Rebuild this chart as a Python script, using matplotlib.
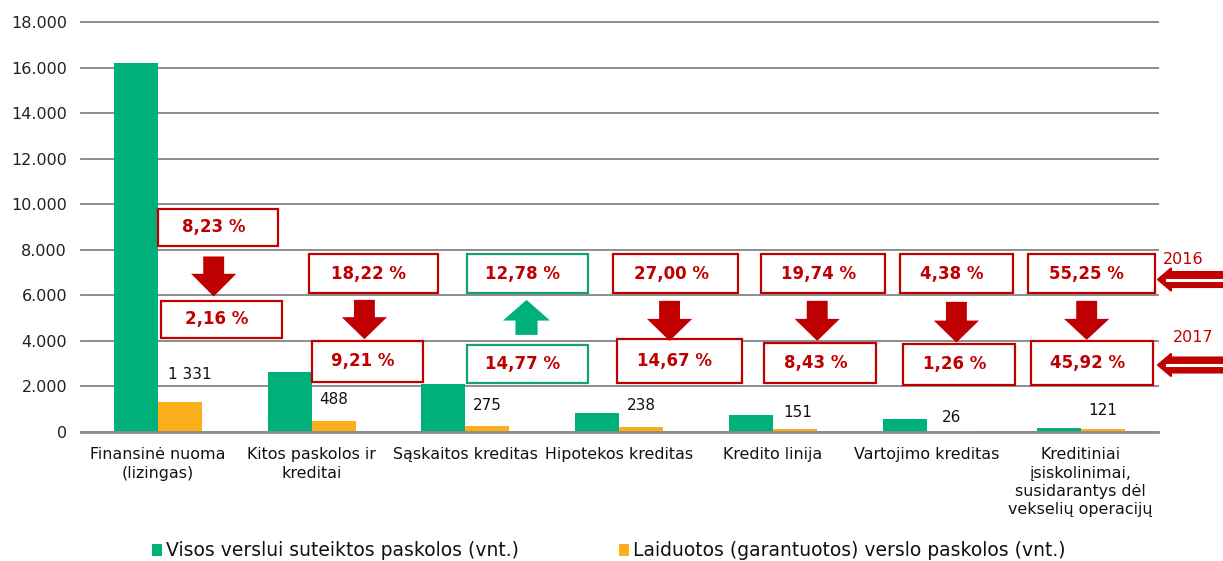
"""
Business loans by type: all vs guaranteed, with 2016/2017 share annotations.
"""

import numpy as np
import matplotlib.pyplot as plt
from matplotlib.patches import Rectangle, Polygon

categories = [
    "Finansinė nuoma\n(lizingas)",
    "Kitos paskolos ir\nkreditai",
    "Sąskaitos kreditas",
    "Hipotekos kreditas",
    "Kredito linija",
    "Vartojimo kreditas",
    "Kreditiniai\nįsiskolinimai,\nsusidarantys dėl\nvekselių operacijų",
]
all_loans = [16200, 2650, 2100, 850, 740, 560, 190]
guaranteed = [1331, 488, 275, 238, 151, 26, 121]
guaranteed_labels = ["1 331", "488", "275", "238", "151", "26", "121"]

share_2016 = ["8,23 %", "18,22 %", "12,78 %", "27,00 %", "19,74 %", "4,38 %", "55,25 %"]
share_2017 = ["2,16 %", "9,21 %", "14,77 %", "14,67 %", "8,43 %", "1,26 %", "45,92 %"]
went_up = [False, False, True, False, False, False, False]

series_names = ["Visos verslui suteiktos paskolos (vnt.)",
                "Laiduotos (garantuotos) verslo paskolos (vnt.)"]

# colours
GREEN = "#00B07B"
ORANGE = "#FBAF1B"
RED = "#C00000"
BOX_GREEN = "#16A072"
GRID = "#8C8C8C"

# annotation layout (data units: x in categories, y in loan counts)
box16_x = [0.392, 1.402, 2.403, 3.367, 4.326, 5.194, 6.070]
box16_w = [0.78, 0.845, 0.789, 0.813, 0.806, 0.735, 0.828]
box16_y = [(8180, 9800)] + [(6110, 7800)] * 6
box17_x = [0.415, 1.364, 2.403, 3.391, 4.305, 5.210, 6.075]
box17_w = [0.787, 0.726, 0.789, 0.815, 0.726, 0.728, 0.793]
box17_y = [(4130, 5770), (2210, 4000), (2170, 3825), (2140, 4100),
           (2140, 3925), (2070, 3870), (2070, 4010)]
arrow_x = [0.363, 1.343, 2.397, 3.327, 4.287, 5.192, 6.039]
# (shaft start, head start, tip)
arrow_y = [(7706, 6946, 5948), (5803, 5042, 4075), (4264, 4893, 5803),
           (5759, 4967, 4000), (5759, 4967, 4000), (5715, 4893, 3926),
           (5759, 4967, 4044)]
label_offset = [(10, 27), (0, 21), (0, 20), (0, 21), (3, 16), (3, 14), (0, 19)]  # px

plt.rcParams["font.family"] = "DejaVu Sans"
fig = plt.figure(figsize=(12.23, 5.61), dpi=100)
ax = fig.add_axes([0.0662, 0.2299, 0.8803, 0.7309])

x = np.arange(len(categories))
w = 0.286
ax.bar(x - w / 2, all_loans, w, color=GREEN, zorder=3)
ax.bar(x + w / 2, guaranteed, w, color=ORANGE, zorder=3)

for i, v in enumerate(guaranteed):
    dx, dy = label_offset[i]
    ax.annotate(guaranteed_labels[i], (x[i] + w / 2, v), xytext=(dx * 0.72, dy * 0.72),
                textcoords="offset points", ha="center", va="center",
                fontsize=11, color="#111111", zorder=5)

ax.set_xlim(-0.5, len(categories) - 0.5)
ax.set_ylim(0, 18000)
ax.set_yticks(np.arange(0, 18001, 2000))
ax.set_yticklabels([f"{int(t):,}".replace(",", ".") for t in np.arange(0, 18001, 2000)],
                   fontsize=11.5, color="#222222")
ax.set_xticks(x)
ax.set_xticklabels(categories, fontsize=11.4, color="#111111", linespacing=1.28)
ax.tick_params(axis="both", length=0)
ax.tick_params(axis="x", pad=11)
ax.tick_params(axis="y", pad=10)
ax.yaxis.grid(True, color=GRID, linewidth=1.4, zorder=0)
for gl in ax.get_ygridlines():
    gl.set_clip_on(False)
for s in ["left", "right", "top"]:
    ax.spines[s].set_visible(False)
ax.spines["bottom"].set_color(GRID)
ax.spines["bottom"].set_linewidth(2)
ax.spines["bottom"].set_zorder(4)

# share boxes
for i in range(len(categories)):
    edge = BOX_GREEN if went_up[i] else RED
    for bx, bw, (y0, y1), txt in [(box16_x[i], box16_w[i], box16_y[i], share_2016[i]),
                                  (box17_x[i], box17_w[i], box17_y[i], share_2017[i])]:
        ax.add_patch(Rectangle((bx - bw / 2, y0), bw, y1 - y0, facecolor="white",
                               edgecolor=edge, linewidth=1.6, zorder=6))
        ax.text(bx - 0.03, (y0 + y1) / 2, txt, ha="center", va="center", fontsize=12,
                fontweight="bold", color=RED, zorder=7)

    # block arrow between the boxes
    ax_, (ys, yh, yt) = arrow_x[i], arrow_y[i]
    sw = 0.068 if not went_up[i] else 0.072
    hw = 0.147 if not went_up[i] else 0.153
    pts = [(ax_ - sw, ys), (ax_ + sw, ys), (ax_ + sw, yh), (ax_ + hw, yh),
           (ax_, yt), (ax_ - hw, yh), (ax_ - sw, yh)]
    ax.add_patch(Polygon(pts, closed=True, facecolor=GREEN if went_up[i] else RED,
                         edgecolor="none", zorder=6))

# year markers on the right, outside the axes
W, H = 1223, 561
def fx(px):
    return px / W

def fy(py):
    return 1 - py / H

for year, ycen, tx, ty in [("2016", 279.5, 1183, 259), ("2017", 365, 1193, 338)]:
    shape = [(1158, ycen), (1171, ycen - 11), (1171, ycen - 7.5), (1223, ycen - 7.5),
             (1223, ycen + 7.5), (1171, ycen + 7.5), (1171, ycen + 11)]
    fig.add_artist(Polygon([(fx(a), fy(b)) for a, b in shape], closed=True,
                           transform=fig.transFigure, facecolor=RED, edgecolor=RED,
                           linewidth=1.5, joinstyle="round"))
    fig.add_artist(plt.Line2D([fx(1167), fx(1223)], [fy(ycen), fy(ycen)],
                              transform=fig.transFigure, color="white", linewidth=2.2))
    fig.text(fx(tx), fy(ty), year, ha="center", va="center", fontsize=11.5, color=RED)

# legend, laid out by hand to match the spacing of the original
for name, col, mx in [(series_names[0], GREEN, 152), (series_names[1], ORANGE, 619)]:
    fig.add_artist(Rectangle((fx(mx), fy(556)), 10 / W, 12 / H, transform=fig.transFigure,
                             facecolor=col, edgecolor="none"))
    fig.text(fx(mx + 14), fy(550), name, ha="left", va="center", fontsize=13.5,
             color="#111111")

plt.savefig("out.png", dpi=100)
